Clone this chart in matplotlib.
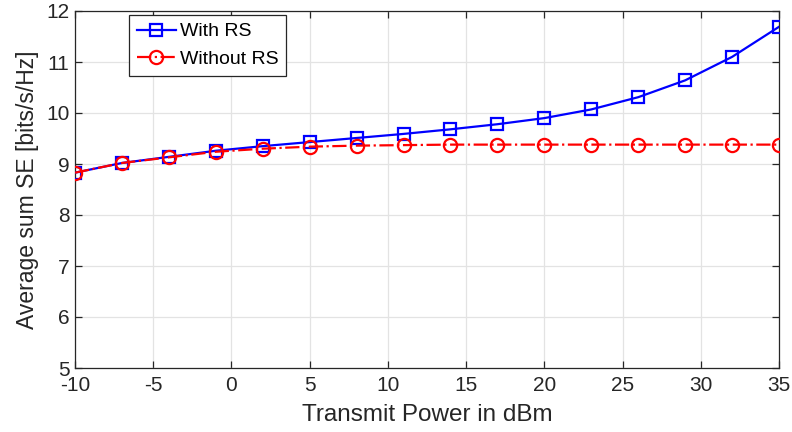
import matplotlib
matplotlib.use("Agg")
import matplotlib.pyplot as plt

plt.rcParams['font.family'] = ['Liberation Sans', 'DejaVu Sans']
plt.rcParams['axes.unicode_minus'] = False

power_dbm = [-10, -7, -4, -1, 2, 5, 8, 11, 14, 17, 20, 23, 26, 29, 32, 35]
se_with_rs = [8.83, 9.02, 9.14, 9.26, 9.35, 9.43, 9.51, 9.59, 9.68, 9.78, 9.90, 10.07, 10.31, 10.64, 11.10, 11.69]
se_without_rs = [8.83, 9.02, 9.13, 9.24, 9.30, 9.34, 9.36, 9.37, 9.38, 9.38, 9.38, 9.38, 9.38, 9.38, 9.38, 9.38]

xticks = [-10, -5, 0, 5, 10, 15, 20, 25, 30, 35]
yticks = [5, 6, 7, 8, 9, 10, 11, 12]

fig = plt.figure(figsize=(7.92, 4.32), dpi=100)
ax = fig.add_axes([75/792, 1-368/432, (779-75)/792, (368-11)/432])

ax.plot(power_dbm, se_with_rs, color=(0, 0, 1), linestyle='-', linewidth=1.6,
        marker='s', markersize=8.5, markerfacecolor='none', markeredgewidth=1.6,
        label='With RS', zorder=3)
ax.plot(power_dbm, se_without_rs, color=(1, 0, 0), linestyle='-.', linewidth=1.6,
        marker='o', markersize=9.5, markerfacecolor='none', markeredgewidth=1.6,
        label='Without RS', zorder=4)

ax.set_xlim(-10, 35)
ax.set_ylim(5, 12)
ax.set_xticks(xticks)
ax.set_yticks(yticks)
ax.grid(True, color='#e3e3e3', linewidth=0.9)
ax.set_axisbelow(True)
for s in ax.spines.values():
    s.set_color('#262626')
    s.set_linewidth(0.9)
ax.tick_params(direction='in', top=True, right=True, length=5, width=0.9,
               color='#262626', labelsize=15, labelcolor='#262626')
ax.tick_params(axis='x', pad=6)
ax.tick_params(axis='y', pad=4)

ax.set_xlabel('Transmit Power in dBm', fontsize=17.5, color='#262626', labelpad=6)
ax.set_ylabel('Average sum SE [bits/s/Hz]', fontsize=16.5, color='#262626', labelpad=5)

leg = ax.legend(loc='upper left', bbox_to_anchor=((129-75)/704, 1-(15-11)/357),
                fontsize=14, frameon=True, fancybox=False, edgecolor='#262626',
                framealpha=1, handlelength=2.0, borderpad=0.4, labelspacing=0.5,
                handletextpad=0.2, borderaxespad=0)
leg.get_frame().set_linewidth(0.9)

fig.savefig('out.png', dpi=100)
